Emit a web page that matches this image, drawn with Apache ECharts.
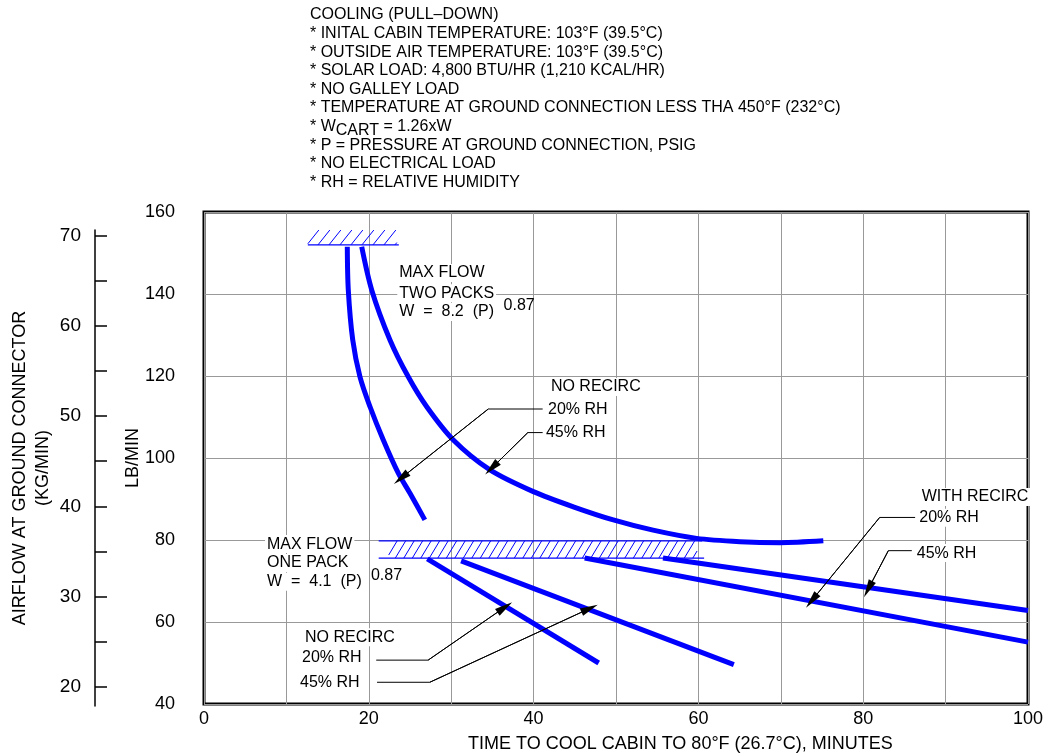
<!DOCTYPE html>
<html>
<head>
<meta charset="utf-8">
<script src="https://cdn.jsdelivr.net/npm/echarts@6/dist/echarts.min.js"></script>
<style>
  html, body { margin: 0; padding: 0; background: #fff; }
  #chart { width: 1046px; height: 755px; }
</style>
</head>
<body>
<div id="chart"></div>
<script>
const LB_PER_KG = 2.20462;
const FONT = '"Liberation Sans", Arial, sans-serif';
const BLUE = '#0000ff';

// curves: [minutes, lb/min]
const twoPack20 = [[17.39, 151.5], [17.51, 141.0], [18.05, 128.8], [18.93, 119.8], [20.15, 112.5], [21.76, 104.4], [23.58, 96.3], [25.0, 91.4], [26.8, 84.9]];
const twoPack45 = [[19.14, 151.5], [20.35, 141.0], [22.57, 128.8], [24.79, 119.8], [27.03, 112.5], [30.26, 104.4], [34.71, 97.1], [39.97, 91.8], [44.82, 88.1], [49.67, 84.9], [54.5, 82.4], [59.79, 80.4], [65.05, 79.6], [69.9, 79.35], [75.16, 79.8]];
const onePackNoRecirc20 = [[27.1, 75.4], [47.9, 50.0]];
const onePackNoRecirc45 = [[31.2, 74.9], [64.3, 49.6]];
const withRecirc20 = [[46.2, 75.6], [100, 55.1]];
const withRecirc45 = [[55.7, 75.6], [100, 62.8]];

// max flow bands: [x from, x to, lb from, lb to]
const maxFlowTwoPacks = [12.6, 23.4, 152, 155.6];
const maxFlowOnePack = [21.2, 60.45, 75.6, 79.8];

// leader lines, last point is the arrow tip
const leaderTwo20 = [[41.1, 111.95], [34.5, 111.95], [23.9, 95.05]];
const leaderTwo45 = [[41.1, 106.2], [39.3, 106.2], [34.9, 97.5]];
const leaderOne20 = [[20.9, 50.7], [27.2, 50.7], [36.5, 63.6]];
const leaderOne45 = [[21.0, 45.3], [27.4, 45.3], [46.8, 63.3]];
const leaderRe20 = [[86.3, 85.5], [82.0, 85.5], [73.75, 65.2]];
const leaderRe45 = [[85.9, 77.4], [83.05, 77.4], [80.6, 68.0]];

// axes
const kgTicks = [20, 25, 30, 35, 40, 45, 50, 55, 60, 65, 70];
const kgLabels = [20, 30, 40, 50, 60, 70];

const noteLines = [
  'COOLING (PULL\u2013DOWN)',
  '* INITAL CABIN TEMPERATURE: 103\u00b0F (39.5\u00b0C)',
  '* OUTSIDE AIR TEMPERATURE: 103\u00b0F (39.5\u00b0C)',
  '* SOLAR LOAD: 4,800 BTU/HR (1,210 KCAL/HR)',
  '* NO GALLEY LOAD',
  '* TEMPERATURE AT GROUND CONNECTION LESS THA 450\u00b0F (232\u00b0C)',
  '{n|* W}{s|CART}{n| = 1.26xW}',
  '* P = PRESSURE AT GROUND CONNECTION, PSIG',
  '* NO ELECTRICAL LOAD',
  '* RH = RELATIVE HUMIDITY'
];

// text labels inside the plot, placed at [minutes, lb/min]
const plotLabels = [
  { text: 'MAX FLOW', at: [23.7, 145.1] },
  { text: 'TWO PACKS', at: [23.7, 140.2] },
  { text: 'W  =  8.2  (P)', at: [23.7, 135.6] },
  { text: '0.87', at: [36.6, 137.2], sup: true },
  { text: 'NO RECIRC', at: [42.1, 117.3] },
  { text: '20% RH', at: [41.75, 111.7] },
  { text: '45% RH', at: [41.5, 106.1] },
  { text: 'MAX FLOW', at: [7.65, 79.0] },
  { text: 'ONE PACK', at: [7.65, 74.4] },
  { text: 'W  =  4.1  (P)', at: [7.65, 69.8] },
  { text: '0.87', at: [20.5, 71.4], sup: true },
  { text: 'NO RECIRC', at: [12.26, 56.3] },
  { text: '20% RH', at: [11.9, 51.2] },
  { text: '45% RH', at: [11.65, 45.1] },
  { text: 'WITH RECIRC', at: [87.1, 90.5] },
  { text: '20% RH', at: [86.8, 85.4] },
  { text: '45% RH', at: [86.5, 76.8] }
];

const hatchStyles = [
  { gap: 11, slant: 0.8, top: false, bottom: true, inset: 0 },
  { gap: 8.5, slant: 0.6, top: true, bottom: true, inset: 10 }
];

// the kg scale is drawn on its own grid, which spans a little less than the plot
// (y 230..706 in the reference); its extent is the lb range of those rows, in kg
const PLOT_TOP = 212, PLOT_BOTTOM = 704, LB_MIN = 40, LB_MAX = 160;
const KG_TOP = 230, KG_BOTTOM = 706;
function rowToKg(py) {
  return (LB_MAX - (py - PLOT_TOP) * (LB_MAX - LB_MIN) / (PLOT_BOTTOM - PLOT_TOP)) / LB_PER_KG;
}

function hatchSeries(band, st) {
  return {
    type: 'custom',
    silent: true,
    z: 2,
    data: [band],
    encode: { x: [0, 1], y: [2, 3] },
    renderItem: function (params, api) {
      const tl = api.coord([api.value(0), api.value(3)]);
      const br = api.coord([api.value(1), api.value(2)]);
      const left = tl[0], top = tl[1], right = br[0], bottom = br[1];
      const h = bottom - top;
      const dx = h * st.slant;
      const hl = left + st.inset, hr = right - st.inset / 2;
      const children = [];
      for (let x = hl - dx; x < hr; x += st.gap) {
        let x1 = x, y1 = bottom, x2 = x + dx, y2 = top;
        if (x1 < hl) { const t = (hl - x) / dx; x1 = hl; y1 = bottom - t * h; }
        if (x2 > hr) { const t = (hr - x) / dx; x2 = hr; y2 = bottom - t * h; }
        if (x2 <= x1) continue;
        children.push({ type: 'line', shape: { x1: x1, y1: y1, x2: x2, y2: y2 }, style: { stroke: BLUE, lineWidth: 1 } });
      }
      if (st.top) children.push({ type: 'line', shape: { x1: left, y1: top, x2: right, y2: top }, style: { stroke: BLUE, lineWidth: 1.2 } });
      if (st.bottom) children.push({ type: 'line', shape: { x1: left, y1: bottom, x2: right + 2, y2: bottom }, style: { stroke: BLUE, lineWidth: 1.2 } });
      return { type: 'group', children: children };
    }
  };
}

function curve(data) {
  return {
    type: 'line', data: data, symbol: 'none', smooth: 0.3, silent: true, z: 3,
    lineStyle: { color: BLUE, width: 5 }
  };
}

function leader(pts) {
  const n = pts.length;
  return {
    type: 'line', data: pts, symbol: 'none', silent: true, z: 5,
    lineStyle: { color: '#000', width: 1 },
    markLine: {
      silent: true,
      symbol: ['none', 'triangle'],
      symbolSize: [8, 18],
      lineStyle: { color: '#000', width: 1, type: 'solid' },
      itemStyle: { color: '#000' },
      label: { show: false },
      data: [[{ coord: pts[n - 2] }, { coord: pts[n - 1] }]]
    }
  };
}

const chart = echarts.init(document.getElementById('chart'));

const option = {
  animation: false,
  backgroundColor: '#fff',
  textStyle: { fontFamily: FONT },
  grid: [
    {
      left: 204, right: 18, top: PLOT_TOP, bottom: 755 - PLOT_BOTTOM, outerBoundsMode: 'none',
      show: true, borderColor: '#000', borderWidth: 3
    },
    { left: 204, right: 18, top: KG_TOP, bottom: 755 - KG_BOTTOM, outerBoundsMode: 'none' }
  ],
  xAxis: [
    {
      type: 'value', min: 0, max: 100, interval: 10,
      axisLine: { show: false }, axisTick: { show: false },
      axisLabel: { fontSize: 18, color: '#000', margin: 6, formatter: v => (v % 20 === 0 ? String(v) : '') },
      splitLine: { lineStyle: { color: '#999', width: 1 } }
    },
    { type: 'value', gridIndex: 1, min: 0, max: 100, show: false }
  ],
  yAxis: [
    {
      type: 'value', min: LB_MIN, max: LB_MAX, interval: 20,
      axisLine: { show: false }, axisTick: { show: false },
      axisLabel: { fontSize: 18, color: '#000', margin: 29 },
      splitLine: { lineStyle: { color: '#999', width: 1 } },
      name: 'LB/MIN', nameLocation: 'middle', nameRotate: 90, nameGap: 62, nameMoveOverlap: false,
      nameTextStyle: { fontSize: 18, color: '#000' }
    },
    {
      type: 'value', gridIndex: 1, position: 'left', offset: 109,
      min: rowToKg(KG_BOTTOM), max: rowToKg(KG_TOP),
      axisLine: { show: true, onZero: false, lineStyle: { color: '#000', width: 1.5 } },
      axisTick: { show: true, inside: true, length: 12, customValues: kgTicks, lineStyle: { color: '#000', width: 1.5 } },
      axisLabel: { customValues: kgLabels, fontSize: 19, color: '#000', margin: 14 },
      splitLine: { show: false },
      name: 'AIRFLOW AT GROUND CONNECTOR\n(KG/MIN)', nameLocation: 'middle', nameRotate: 90, nameGap: 40,
      nameMoveOverlap: false,
      nameTextStyle: { fontSize: 18, color: '#000', lineHeight: 23 }
    }
  ],
  series: [
    hatchSeries(maxFlowTwoPacks, hatchStyles[0]),
    hatchSeries(maxFlowOnePack, hatchStyles[1]),
    curve(twoPack20),
    curve(twoPack45),
    curve(onePackNoRecirc20),
    curve(onePackNoRecirc45),
    curve(withRecirc20),
    curve(withRecirc45),
    leader(leaderTwo20),
    leader(leaderTwo45),
    leader(leaderOne20),
    leader(leaderOne45),
    leader(leaderRe20),
    leader(leaderRe45)
  ]
};

chart.setOption(option);

const graphics = [];
noteLines.forEach(function (line, i) {
  graphics.push({
    type: 'text', left: 310, top: 7 + i * 18.6, z: 10,
    style: {
      text: line, fontSize: 16, fontFamily: FONT, fill: '#000',
      rich: {
        n: { fontSize: 16, fontFamily: FONT, verticalAlign: 'top' },
        s: { fontSize: 16, fontFamily: FONT, verticalAlign: 'top', padding: [4, 0, 0, 0] }
      }
    }
  });
});
graphics.push({
  type: 'text', left: 468, top: 735, z: 10,
  style: { text: 'TIME TO COOL CABIN TO 80\u00b0F (26.7\u00b0C), MINUTES', fontSize: 18, fontFamily: FONT, fill: '#000' }
});
plotLabels.forEach(function (lb) {
  const p = chart.convertToPixel({ xAxisIndex: 0, yAxisIndex: 0 }, lb.at);
  graphics.push({
    type: 'text', x: p[0] - 2, y: p[1], z: 10,
    style: {
      text: lb.text, fontSize: 16, fontFamily: FONT, fill: '#000',
      align: 'left', verticalAlign: 'middle',
      backgroundColor: lb.sup ? null : '#fff', padding: lb.sup ? 0 : [1, 2]
    }
  });
});
chart.setOption({ graphic: graphics });
</script>
</body>
</html>
